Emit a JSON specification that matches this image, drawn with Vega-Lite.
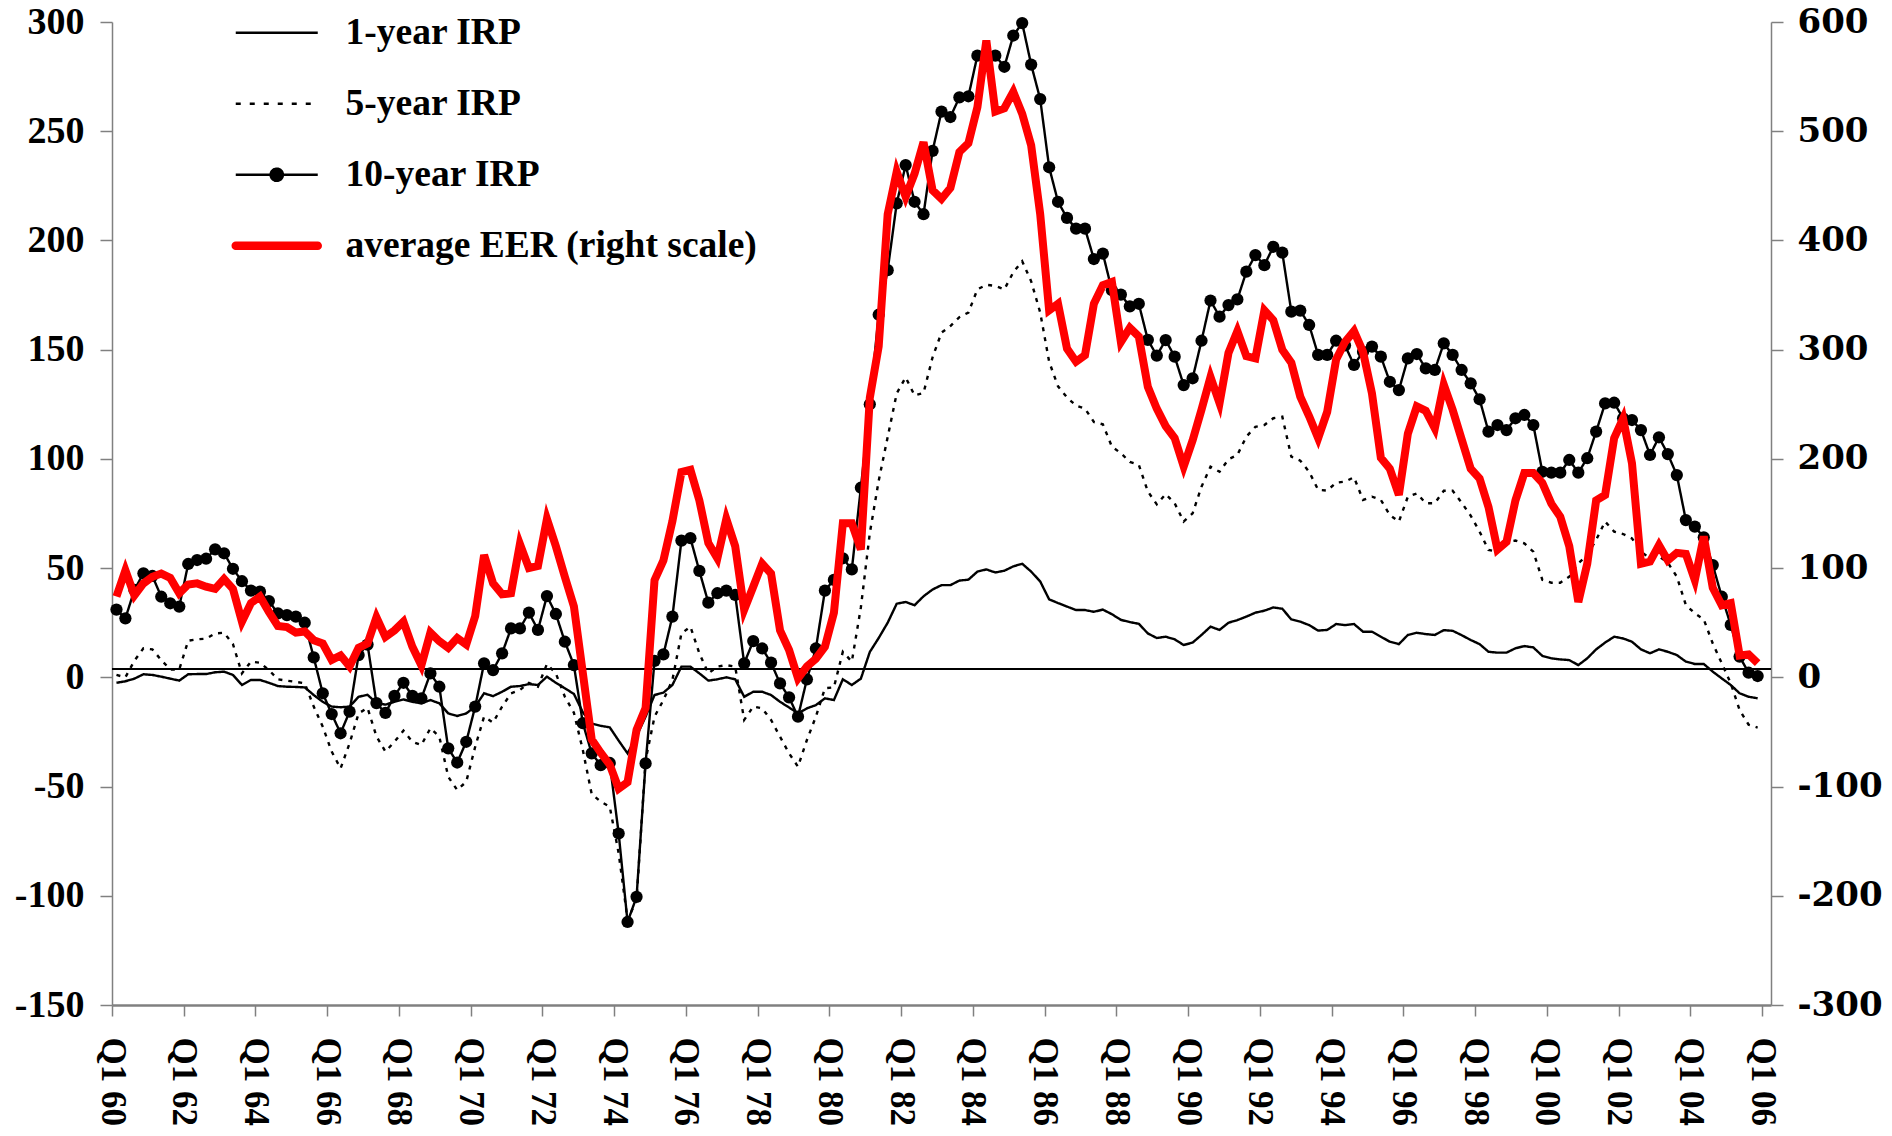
{
"$schema": "https://vega.github.io/schema/vega-lite/v6.json",
"width": 1659, "height": 983,
"autosize": {"type": "none"},
"padding": {"left": 112, "top": 22, "right": 121, "bottom": 131},
"background": "white",
"config": {"view": {"stroke": null}},
"data": {"values": [
{"date":"1960-01-01","irp1":-2.5,"irp5":1.1,"irp10":31,"eer":74},
{"date":"1960-04-01","irp1":-1.8,"irp5":0,"irp10":27,"eer":98},
{"date":"1960-07-01","irp1":-0.6,"irp5":7.6,"irp10":40,"eer":75},
{"date":"1960-10-01","irp1":1.4,"irp5":13.3,"irp10":47.6,"eer":86},
{"date":"1961-01-01","irp1":1.1,"irp5":12.8,"irp10":46.4,"eer":92},
{"date":"1961-04-01","irp1":0.3,"irp5":7.9,"irp10":36.9,"eer":95},
{"date":"1961-07-01","irp1":-0.6,"irp5":3.6,"irp10":33.9,"eer":91},
{"date":"1961-10-01","irp1":-1.5,"irp5":3.6,"irp10":32.4,"eer":77},
{"date":"1962-01-01","irp1":1.4,"irp5":16.8,"irp10":51.9,"eer":85},
{"date":"1962-04-01","irp1":1.5,"irp5":17.4,"irp10":53.7,"eer":86},
{"date":"1962-07-01","irp1":1.5,"irp5":17.7,"irp10":54.3,"eer":83},
{"date":"1962-10-01","irp1":2.3,"irp5":20.1,"irp10":58.6,"eer":81},
{"date":"1963-01-01","irp1":2.6,"irp5":20.4,"irp10":56.8,"eer":90},
{"date":"1963-04-01","irp1":1.1,"irp5":15.2,"irp10":49.7,"eer":81},
{"date":"1963-07-01","irp1":-3.5,"irp5":1.8,"irp10":44,"eer":51},
{"date":"1963-10-01","irp1":-1.2,"irp5":7.2,"irp10":39.7,"eer":68},
{"date":"1964-01-01","irp1":-1.2,"irp5":6.7,"irp10":39.2,"eer":74},
{"date":"1964-04-01","irp1":-2.5,"irp5":3.3,"irp10":34.9,"eer":60},
{"date":"1964-07-01","irp1":-4,"irp5":-0.9,"irp10":29.3,"eer":47},
{"date":"1964-10-01","irp1":-4.3,"irp5":-1.5,"irp10":28.5,"eer":46},
{"date":"1965-01-01","irp1":-4.4,"irp5":-2.1,"irp10":27.8,"eer":41},
{"date":"1965-04-01","irp1":-4.6,"irp5":-2.7,"irp10":25,"eer":42},
{"date":"1965-07-01","irp1":-8.1,"irp5":-13.4,"irp10":9.1,"eer":34},
{"date":"1965-10-01","irp1":-11.2,"irp5":-22.6,"irp10":-7.3,"eer":31},
{"date":"1966-01-01","irp1":-13.4,"irp5":-34,"irp10":-16.8,"eer":16},
{"date":"1966-04-01","irp1":-13.7,"irp5":-41.7,"irp10":-25.6,"eer":20},
{"date":"1966-07-01","irp1":-13.4,"irp5":-30.2,"irp10":-15.7,"eer":10},
{"date":"1966-10-01","irp1":-8.9,"irp5":-16.5,"irp10":10.2,"eer":27},
{"date":"1967-01-01","irp1":-8,"irp5":-14,"irp10":15,"eer":31},
{"date":"1967-04-01","irp1":-11.8,"irp5":-27,"irp10":-11.8,"eer":55},
{"date":"1967-07-01","irp1":-12.5,"irp5":-34,"irp10":-16.3,"eer":37},
{"date":"1967-10-01","irp1":-11.2,"irp5":-29.5,"irp10":-8.5,"eer":43},
{"date":"1968-01-01","irp1":-10.1,"irp5":-24.4,"irp10":-2.5,"eer":51},
{"date":"1968-04-01","irp1":-11.2,"irp5":-29.5,"irp10":-8.5,"eer":28},
{"date":"1968-07-01","irp1":-11.9,"irp5":-31,"irp10":-9.6,"eer":11},
{"date":"1968-10-01","irp1":-10.4,"irp5":-23.3,"irp10":1.8,"eer":41},
{"date":"1969-01-01","irp1":-11.9,"irp5":-27.2,"irp10":-4.3,"eer":33},
{"date":"1969-04-01","irp1":-16.5,"irp5":-45.5,"irp10":-32.5,"eer":27},
{"date":"1969-07-01","irp1":-17.7,"irp5":-51.6,"irp10":-39,"eer":36},
{"date":"1969-10-01","irp1":-16.5,"irp5":-47.8,"irp10":-29.5,"eer":30},
{"date":"1970-01-01","irp1":-13.4,"irp5":-31.8,"irp10":-13.4,"eer":56},
{"date":"1970-04-01","irp1":-7.3,"irp5":-18,"irp10":6.4,"eer":112},
{"date":"1970-07-01","irp1":-8.6,"irp5":-20.7,"irp10":3.3,"eer":86},
{"date":"1970-10-01","irp1":-6.6,"irp5":-13.4,"irp10":11,"eer":76},
{"date":"1971-01-01","irp1":-4.3,"irp5":-7.3,"irp10":22.4,"eer":77},
{"date":"1971-04-01","irp1":-4,"irp5":-5.8,"irp10":22.4,"eer":122},
{"date":"1971-07-01","irp1":-3.1,"irp5":-2.5,"irp10":29.6,"eer":100},
{"date":"1971-10-01","irp1":-3.5,"irp5":-4.3,"irp10":21.7,"eer":102},
{"date":"1972-01-01","irp1":0.3,"irp5":6.1,"irp10":37.2,"eer":145},
{"date":"1972-04-01","irp1":-2.5,"irp5":1.8,"irp10":29,"eer":120},
{"date":"1972-07-01","irp1":-5,"irp5":-8.9,"irp10":16.3,"eer":92},
{"date":"1972-10-01","irp1":-7.6,"irp5":-16.2,"irp10":5.6,"eer":65},
{"date":"1973-01-01","irp1":-16,"irp5":-33.3,"irp10":-21,"eer":4},
{"date":"1973-04-01","irp1":-21.2,"irp5":-53.5,"irp10":-34.8,"eer":-57},
{"date":"1973-07-01","irp1":-22.2,"irp5":-56.9,"irp10":-40.2,"eer":-69},
{"date":"1973-10-01","irp1":-22.9,"irp5":-59.2,"irp10":-39.2,"eer":-80},
{"date":"1974-01-01","irp1":-29,"irp5":-80.6,"irp10":-71.5,"eer":-102},
{"date":"1974-04-01","irp1":-34.8,"irp5":-111,"irp10":-112,"eer":-96},
{"date":"1974-07-01","irp1":-27,"irp5":-102,"irp10":-100.5,"eer":-48},
{"date":"1974-10-01","irp1":-18,"irp5":-37.9,"irp10":-39.4,"eer":-28},
{"date":"1975-01-01","irp1":-8.1,"irp5":-18,"irp10":7.5,"eer":89},
{"date":"1975-04-01","irp1":-7,"irp5":-10.4,"irp10":10.5,"eer":107},
{"date":"1975-07-01","irp1":-3.5,"irp5":-1.2,"irp10":27.8,"eer":143},
{"date":"1975-10-01","irp1":4.9,"irp5":20.1,"irp10":62.6,"eer":188},
{"date":"1976-01-01","irp1":4.9,"irp5":23.2,"irp10":63.7,"eer":190},
{"date":"1976-04-01","irp1":1.8,"irp5":11,"irp10":48.7,"eer":162},
{"date":"1976-07-01","irp1":-1.5,"irp5":1.8,"irp10":34.2,"eer":123},
{"date":"1976-10-01","irp1":-0.9,"irp5":4.9,"irp10":38.5,"eer":109},
{"date":"1977-01-01","irp1":0,"irp5":5.6,"irp10":39.7,"eer":145},
{"date":"1977-04-01","irp1":-0.9,"irp5":4.9,"irp10":37.7,"eer":120},
{"date":"1977-07-01","irp1":-8.9,"irp5":-19.5,"irp10":6.4,"eer":62},
{"date":"1977-10-01","irp1":-6.6,"irp5":-13.4,"irp10":16.6,"eer":83},
{"date":"1978-01-01","irp1":-6.6,"irp5":-14.2,"irp10":13.2,"eer":104},
{"date":"1978-04-01","irp1":-8.1,"irp5":-19.5,"irp10":6.7,"eer":95},
{"date":"1978-07-01","irp1":-11.2,"irp5":-27.2,"irp10":-2.8,"eer":43},
{"date":"1978-10-01","irp1":-13.8,"irp5":-34.8,"irp10":-9.2,"eer":25},
{"date":"1979-01-01","irp1":-16.5,"irp5":-40.9,"irp10":-18,"eer":-1},
{"date":"1979-04-01","irp1":-14.2,"irp5":-28.7,"irp10":-0.9,"eer":10},
{"date":"1979-07-01","irp1":-12.7,"irp5":-18,"irp10":13.2,"eer":17},
{"date":"1979-10-01","irp1":-9.6,"irp5":-5,"irp10":39.7,"eer":28},
{"date":"1980-01-01","irp1":-10.4,"irp5":-4.6,"irp10":44.6,"eer":59},
{"date":"1980-04-01","irp1":-0.9,"irp5":11.7,"irp10":54.5,"eer":141},
{"date":"1980-07-01","irp1":-3.5,"irp5":7.2,"irp10":49.4,"eer":141},
{"date":"1980-10-01","irp1":-0.6,"irp5":32,"irp10":86.8,"eer":117},
{"date":"1981-01-01","irp1":11.6,"irp5":66,"irp10":125,"eer":256},
{"date":"1981-04-01","irp1":18,"irp5":90,"irp10":166,"eer":303},
{"date":"1981-07-01","irp1":25,"irp5":110,"irp10":186.4,"eer":424},
{"date":"1981-10-01","irp1":33.7,"irp5":130,"irp10":217,"eer":463},
{"date":"1982-01-01","irp1":34.5,"irp5":137.3,"irp10":234.5,"eer":440},
{"date":"1982-04-01","irp1":33,"irp5":129.1,"irp10":217.7,"eer":461},
{"date":"1982-07-01","irp1":37.1,"irp5":130.2,"irp10":212,"eer":490},
{"date":"1982-10-01","irp1":40.2,"irp5":146.5,"irp10":241,"eer":446},
{"date":"1983-01-01","irp1":42.2,"irp5":157.8,"irp10":259,"eer":438},
{"date":"1983-04-01","irp1":42.2,"irp5":160.8,"irp10":256.5,"eer":448},
{"date":"1983-07-01","irp1":44.3,"irp5":164.9,"irp10":265.5,"eer":481},
{"date":"1983-10-01","irp1":44.7,"irp5":167,"irp10":266,"eer":489},
{"date":"1984-01-01","irp1":48.4,"irp5":177.6,"irp10":284.6,"eer":522},
{"date":"1984-04-01","irp1":49.4,"irp5":179.7,"irp10":284,"eer":583},
{"date":"1984-07-01","irp1":48,"irp5":179.2,"irp10":284.6,"eer":518},
{"date":"1984-10-01","irp1":48.8,"irp5":177.6,"irp10":279.5,"eer":521},
{"date":"1985-01-01","irp1":50.8,"irp5":185.4,"irp10":293.8,"eer":536},
{"date":"1985-04-01","irp1":52,"irp5":190.5,"irp10":299.5,"eer":516},
{"date":"1985-07-01","irp1":48.4,"irp5":181.3,"irp10":280.5,"eer":487},
{"date":"1985-10-01","irp1":43.9,"irp5":167,"irp10":264.7,"eer":424},
{"date":"1986-01-01","irp1":35.7,"irp5":144.5,"irp10":233.5,"eer":336},
{"date":"1986-04-01","irp1":34,"irp5":133.2,"irp10":217.7,"eer":342},
{"date":"1986-07-01","irp1":32.4,"irp5":128.1,"irp10":210.3,"eer":301},
{"date":"1986-10-01","irp1":30.8,"irp5":124.4,"irp10":205.4,"eer":289},
{"date":"1987-01-01","irp1":30.8,"irp5":123,"irp10":205.4,"eer":295},
{"date":"1987-04-01","irp1":30,"irp5":116.9,"irp10":191.5,"eer":342},
{"date":"1987-07-01","irp1":31,"irp5":115.8,"irp10":194,"eer":359},
{"date":"1987-10-01","irp1":28.9,"irp5":105.6,"irp10":177.2,"eer":362},
{"date":"1988-01-01","irp1":26.3,"irp5":102.6,"irp10":175.2,"eer":307},
{"date":"1988-04-01","irp1":25.3,"irp5":98.6,"irp10":169.8,"eer":320},
{"date":"1988-07-01","irp1":24.5,"irp5":97.3,"irp10":171,"eer":312},
{"date":"1988-10-01","irp1":20.1,"irp5":85.1,"irp10":154.5,"eer":266},
{"date":"1989-01-01","irp1":18,"irp5":79.2,"irp10":147.3,"eer":246},
{"date":"1989-04-01","irp1":18.6,"irp5":83.9,"irp10":154.4,"eer":230},
{"date":"1989-07-01","irp1":17.4,"irp5":79.7,"irp10":146.8,"eer":219},
{"date":"1989-10-01","irp1":14.8,"irp5":71.3,"irp10":133.8,"eer":193},
{"date":"1990-01-01","irp1":15.9,"irp5":75.1,"irp10":136.9,"eer":217},
{"date":"1990-04-01","irp1":19.4,"irp5":87.3,"irp10":154.1,"eer":245},
{"date":"1990-07-01","irp1":23.2,"irp5":96.4,"irp10":172.5,"eer":275},
{"date":"1990-10-01","irp1":21.7,"irp5":94.1,"irp10":165.1,"eer":251},
{"date":"1991-01-01","irp1":25,"irp5":99.8,"irp10":170.4,"eer":297},
{"date":"1991-04-01","irp1":26.2,"irp5":101.8,"irp10":173,"eer":317},
{"date":"1991-07-01","irp1":27.8,"irp5":110.2,"irp10":185.7,"eer":294},
{"date":"1991-10-01","irp1":29.6,"irp5":114.7,"irp10":193.3,"eer":292},
{"date":"1992-01-01","irp1":30.5,"irp5":115.5,"irp10":188.7,"eer":336},
{"date":"1992-04-01","irp1":32,"irp5":118.6,"irp10":197.1,"eer":327},
{"date":"1992-07-01","irp1":31.4,"irp5":119.3,"irp10":194.4,"eer":300},
{"date":"1992-10-01","irp1":26.5,"irp5":101,"irp10":167.4,"eer":288},
{"date":"1993-01-01","irp1":25.5,"irp5":99.2,"irp10":167.9,"eer":257},
{"date":"1993-04-01","irp1":23.9,"irp5":94.1,"irp10":161.3,"eer":239},
{"date":"1993-07-01","irp1":21.4,"irp5":85.8,"irp10":147.6,"eer":219},
{"date":"1993-10-01","irp1":21.7,"irp5":85.5,"irp10":147.6,"eer":243},
{"date":"1994-01-01","irp1":24.4,"irp5":89.1,"irp10":154.1,"eer":291},
{"date":"1994-04-01","irp1":23.9,"irp5":89.6,"irp10":152,"eer":307},
{"date":"1994-07-01","irp1":24.4,"irp5":91.6,"irp10":143,"eer":317},
{"date":"1994-10-01","irp1":20.9,"irp5":81.2,"irp10":149,"eer":298},
{"date":"1995-01-01","irp1":20.9,"irp5":82.7,"irp10":151.4,"eer":260},
{"date":"1995-04-01","irp1":18.6,"irp5":81.2,"irp10":146.8,"eer":201},
{"date":"1995-07-01","irp1":16.3,"irp5":74.3,"irp10":135.3,"eer":191},
{"date":"1995-10-01","irp1":15.2,"irp5":71.3,"irp10":131.5,"eer":167},
{"date":"1996-01-01","irp1":19.4,"irp5":82.7,"irp10":146,"eer":223},
{"date":"1996-04-01","irp1":20.4,"irp5":84.2,"irp10":148,"eer":248},
{"date":"1996-07-01","irp1":19.8,"irp5":79.7,"irp10":141.4,"eer":244},
{"date":"1996-10-01","irp1":19.4,"irp5":79.7,"irp10":140.7,"eer":228},
{"date":"1997-01-01","irp1":21.6,"irp5":85.4,"irp10":152.9,"eer":268},
{"date":"1997-04-01","irp1":21.3,"irp5":85.4,"irp10":147.6,"eer":245},
{"date":"1997-07-01","irp1":19.3,"irp5":80,"irp10":140.7,"eer":218},
{"date":"1997-10-01","irp1":17.1,"irp5":74,"irp10":134.6,"eer":191},
{"date":"1998-01-01","irp1":15.2,"irp5":66.7,"irp10":127.3,"eer":182},
{"date":"1998-04-01","irp1":11.7,"irp5":58.3,"irp10":112.5,"eer":156},
{"date":"1998-07-01","irp1":11.3,"irp5":57.5,"irp10":115.5,"eer":117},
{"date":"1998-10-01","irp1":11.3,"irp5":62.1,"irp10":113.2,"eer":124},
{"date":"1999-01-01","irp1":13.3,"irp5":62.6,"irp10":118.6,"eer":162},
{"date":"1999-04-01","irp1":14.3,"irp5":61.3,"irp10":120.1,"eer":187},
{"date":"1999-07-01","irp1":13.7,"irp5":57.5,"irp10":115.5,"eer":187},
{"date":"1999-10-01","irp1":9.8,"irp5":44.6,"irp10":94.1,"eer":178},
{"date":"2000-01-01","irp1":8.7,"irp5":43.3,"irp10":93.7,"eer":159},
{"date":"2000-04-01","irp1":8.2,"irp5":43.3,"irp10":93.7,"eer":147},
{"date":"2000-07-01","irp1":7.9,"irp5":46.1,"irp10":99.5,"eer":120},
{"date":"2000-10-01","irp1":5.6,"irp5":52.2,"irp10":93.7,"eer":69},
{"date":"2001-01-01","irp1":8.7,"irp5":56,"irp10":100.3,"eer":104},
{"date":"2001-04-01","irp1":12.8,"irp5":62.9,"irp10":112.5,"eer":162},
{"date":"2001-07-01","irp1":15.9,"irp5":71.3,"irp10":125.4,"eer":167},
{"date":"2001-10-01","irp1":18.6,"irp5":66.7,"irp10":125.7,"eer":219},
{"date":"2002-01-01","irp1":17.8,"irp5":65.6,"irp10":118.6,"eer":237},
{"date":"2002-04-01","irp1":16.3,"irp5":63.6,"irp10":117.8,"eer":196},
{"date":"2002-07-01","irp1":12.8,"irp5":57.5,"irp10":113.2,"eer":104},
{"date":"2002-10-01","irp1":11,"irp5":54.5,"irp10":101.8,"eer":106},
{"date":"2003-01-01","irp1":12.8,"irp5":55.3,"irp10":109.9,"eer":121},
{"date":"2003-04-01","irp1":11.7,"irp5":52.5,"irp10":102.2,"eer":107},
{"date":"2003-07-01","irp1":10.2,"irp5":46.1,"irp10":92.6,"eer":114},
{"date":"2003-10-01","irp1":7.2,"irp5":33.1,"irp10":72,"eer":113},
{"date":"2004-01-01","irp1":6.1,"irp5":29.3,"irp10":69,"eer":89},
{"date":"2004-04-01","irp1":6.1,"irp5":26.5,"irp10":64.1,"eer":129},
{"date":"2004-07-01","irp1":2.6,"irp5":15.5,"irp10":51.4,"eer":82},
{"date":"2004-10-01","irp1":-0.5,"irp5":6.4,"irp10":36.9,"eer":66},
{"date":"2005-01-01","irp1":-3.5,"irp5":-2.7,"irp10":24,"eer":68},
{"date":"2005-04-01","irp1":-7.3,"irp5":-15,"irp10":9.5,"eer":20},
{"date":"2005-07-01","irp1":-8.9,"irp5":-21.7,"irp10":2.1,"eer":21},
{"date":"2005-10-01","irp1":-9.6,"irp5":-23,"irp10":0.6,"eer":13}
]},
"layer": [
{
"layer": [
{"mark": {"type": "rule", "color": "#000000", "strokeWidth": 1.5},
 "encoding": {"y": {"datum": 3.7, "type": "quantitative", "title": null, "scale": {"domain": [-150, 300], "nice": false, "zero": false}}}},
{"transform": [{"fold": ["irp1", "irp5", "irp10"], "as": ["series", "value"]}],
 "mark": {"type": "line", "strokeWidth": 2.4},
 "encoding": {
  "x": {"field": "date", "type": "temporal", "timeUnit": "utcyearquarter", "bandPosition": 0.5, "title": null,
   "scale": {"domain": [{"year": 1960, "month": 1, "date": 1, "utc": true}, {"year": 2006, "month": 4, "date": 1, "utc": true}]},
   "axis": {"title": null, "grid": false, "orient": "bottom",
    "values": [{"year":1960,"month":1,"date":1,"utc":true},{"year":1962,"month":1,"date":1,"utc":true},{"year":1964,"month":1,"date":1,"utc":true},{"year":1966,"month":1,"date":1,"utc":true},{"year":1968,"month":1,"date":1,"utc":true},{"year":1970,"month":1,"date":1,"utc":true},{"year":1972,"month":1,"date":1,"utc":true},{"year":1974,"month":1,"date":1,"utc":true},{"year":1976,"month":1,"date":1,"utc":true},{"year":1978,"month":1,"date":1,"utc":true},{"year":1980,"month":1,"date":1,"utc":true},{"year":1982,"month":1,"date":1,"utc":true},{"year":1984,"month":1,"date":1,"utc":true},{"year":1986,"month":1,"date":1,"utc":true},{"year":1988,"month":1,"date":1,"utc":true},{"year":1990,"month":1,"date":1,"utc":true},{"year":1992,"month":1,"date":1,"utc":true},{"year":1994,"month":1,"date":1,"utc":true},{"year":1996,"month":1,"date":1,"utc":true},{"year":1998,"month":1,"date":1,"utc":true},{"year":2000,"month":1,"date":1,"utc":true},{"year":2002,"month":1,"date":1,"utc":true},{"year":2004,"month":1,"date":1,"utc":true},{"year":2006,"month":1,"date":1,"utc":true}],
    "labelExpr": "'Q1 ' + utcFormat(datum.value, '%y')",
    "labelAngle": 90, "labelAlign": "left", "labelBaseline": "middle",
    "labelFont": "Liberation Serif", "labelFontWeight": "bold", "labelFontSize": 35, "labelColor": "#000000",
    "labelPadding": 21, "labelFlush": false, "labelOverlap": false, "labelBound": false,
    "tickSize": 11, "tickColor": "#808080", "tickWidth": 1.5,
    "domainColor": "#808080", "domainWidth": 2.5}},
  "y": {"field": "value", "type": "quantitative", "title": null, "scale": {"domain": [-150, 300], "nice": false, "zero": false},
   "axis": {"title": null, "grid": false, "orient": "left", "values": [-150, -100, -50, 0, 50, 100, 150, 200, 250, 300],
    "labelExpr": "datum.value < 0 ? '-' + abs(datum.value) : '' + datum.value",
    "labelFont": "Liberation Serif", "labelFontWeight": "bold", "labelFontSize": 38, "labelColor": "#000000",
    "labelPadding": 16, "tickSize": 12, "tickColor": "#808080", "tickWidth": 1.5,
    "domainColor": "#808080", "domainWidth": 1.5, "labelFlush": false, "labelOverlap": false}},
  "color": {"field": "series", "type": "nominal",
   "scale": {"domain": ["irp1", "irp5", "irp10", "eer"], "range": ["#000000", "#000000", "#000000", "#ff0000"]},
   "legend": {"orient": "none", "legendX": 146, "legendY": -8, "title": null, "padding": 0,
    "labelExpr": "datum.value === 'irp1' ? '1-year IRP' : datum.value === 'irp5' ? '5-year IRP' : datum.value === 'irp10' ? '10-year IRP' : 'average EER (right scale)'",
    "labelFont": "Liberation Serif", "labelFontWeight": "bold", "labelFontSize": 37.5, "labelColor": "#000000", "labelLimit": 800,
    "symbolType": "M-2,0H2", "symbolSize": 1681, "symbolStrokeWidth": 2, "symbolFillColor": "transparent",
    "rowPadding": 32, "labelOffset": 50,
    "encode": {"symbols": {"update": {
     "shape": {"signal": "datum.value === 'irp10' ? 'M-2,0H2M-0.3,0A0.3,0.3,0,1,1,0.3,0A0.3,0.3,0,1,1,-0.3,0' : 'M-2,0H2'"},
     "fill": {"signal": "datum.value === 'irp10' ? '#000000' : 'transparent'"},
     "strokeWidth": {"signal": "datum.value === 'eer' ? 8.5 : 2.4"},
     "strokeCap": {"signal": "datum.value === 'eer' ? 'round' : 'butt'"},
     "strokeDash": {"signal": "datum.value === 'irp5' ? [5, 9] : [1, 0]"}
    }}}}},
  "strokeDash": {"field": "series", "type": "nominal",
   "scale": {"domain": ["irp1", "irp5", "irp10"], "range": [[1, 0], [4, 6], [1, 0]]}, "legend": null}
 }},
{"mark": {"type": "point", "filled": true, "size": 150, "color": "#000000", "opacity": 1},
 "encoding": {
  "x": {"field": "date", "type": "temporal", "timeUnit": "utcyearquarter", "bandPosition": 0.5, "title": null},
  "y": {"field": "irp10", "type": "quantitative", "title": null}}}
]
},
{"mark": {"type": "line", "strokeWidth": 8},
 "encoding": {
  "x": {"field": "date", "type": "temporal", "timeUnit": "utcyearquarter", "bandPosition": 0.5, "title": null},
  "y": {"field": "eer", "type": "quantitative", "title": null, "scale": {"domain": [-300, 600], "nice": false, "zero": false},
   "axis": {"title": null, "grid": false, "orient": "right", "values": [-300, -200, -100, 0, 100, 200, 300, 400, 500, 600],
    "labelExpr": "datum.value < 0 ? '-' + abs(datum.value) : '' + datum.value",
    "labelFont": "DejaVu Serif", "labelFontWeight": "bold", "labelFontSize": 34, "labelColor": "#000000",
    "labelPadding": 14, "tickSize": 12, "tickColor": "#808080", "tickWidth": 1.5,
    "domainColor": "#808080", "domainWidth": 1.5, "labelFlush": false, "labelOverlap": false}},
  "color": {"datum": "eer", "type": "nominal"}}}
],
"resolve": {"scale": {"y": "independent"}}
}
